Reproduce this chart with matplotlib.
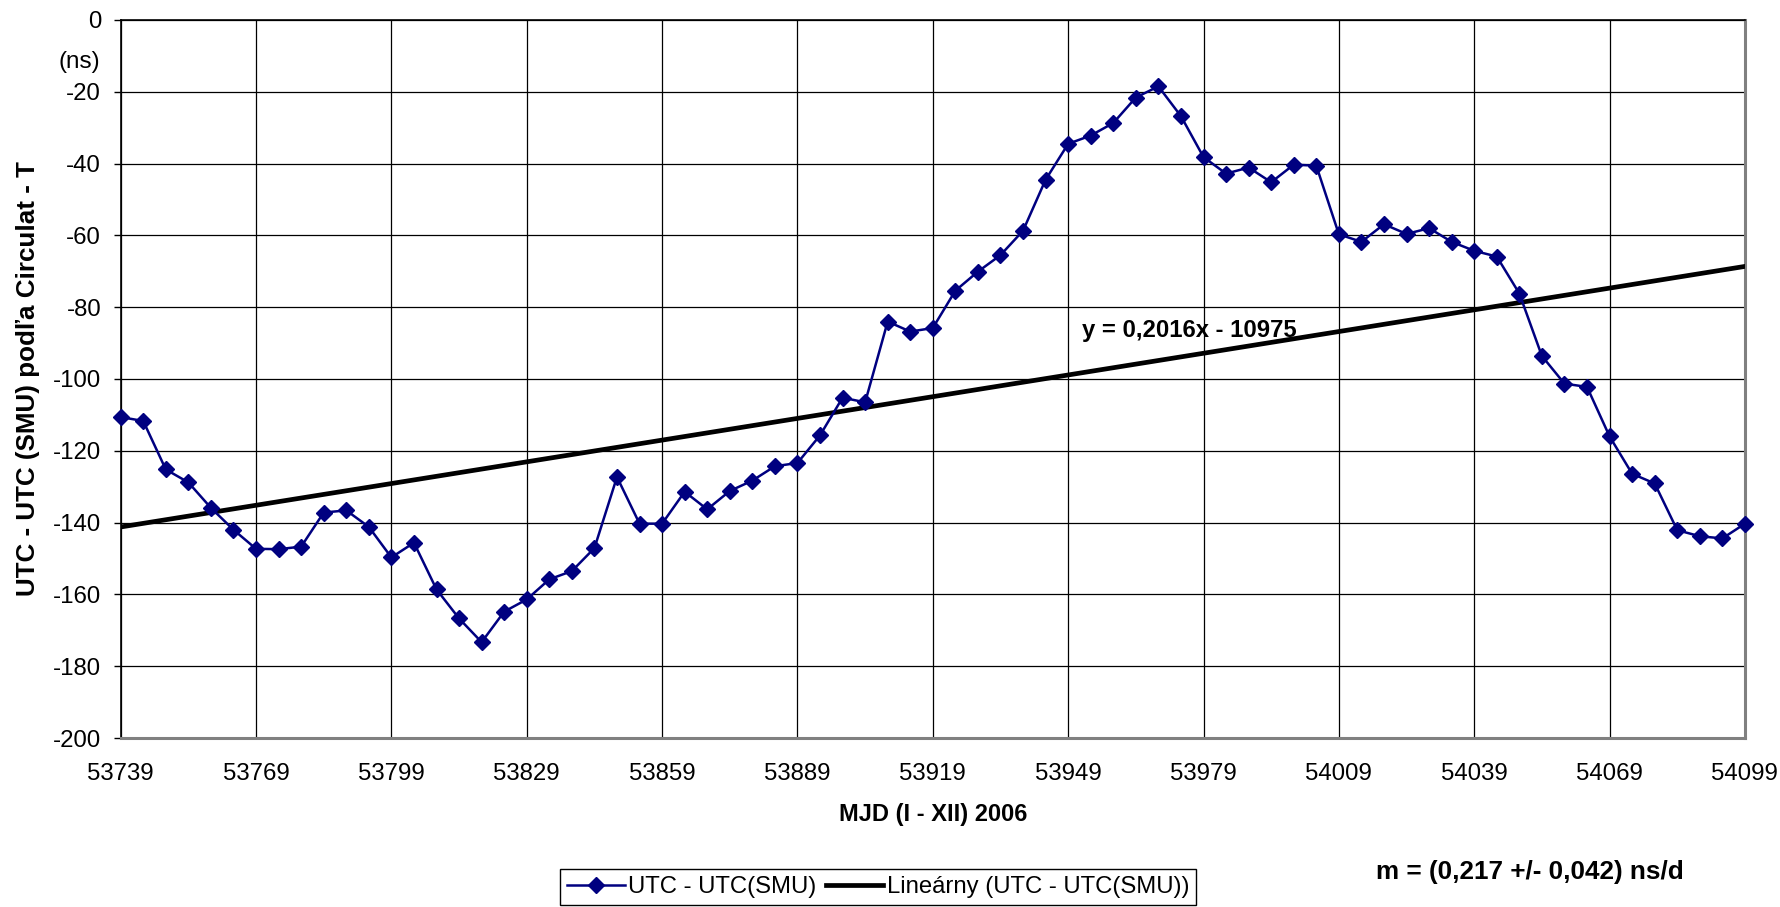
import numpy as np
import matplotlib.pyplot as plt

plt.rcParams['font.family'] = ['Liberation Sans', 'DejaVu Sans']

# MJD epochs (every 5 days through 2006)
mjd = [53739, 53744, 53749, 53754, 53759, 53764, 53769, 53774, 53779, 53784,
       53789, 53794, 53799, 53804, 53809, 53814, 53819, 53824, 53829, 53834,
       53839, 53844, 53849, 53854, 53859, 53864, 53869, 53874, 53879, 53884,
       53889, 53894, 53899, 53904, 53909, 53914, 53919, 53924, 53929, 53934,
       53939, 53944, 53949, 53954, 53959, 53964, 53969, 53974, 53979, 53984,
       53989, 53994, 53999, 54004, 54009, 54014, 54019, 54024, 54029, 54034,
       54039, 54044, 54049, 54054, 54059, 54064, 54069, 54074, 54079, 54084,
       54089, 54094, 54099]

# UTC - UTC(SMU) in ns
utc_smu = [-110.6, -111.7, -125.2, -128.8, -135.9, -142.0, -147.3, -147.4, -146.7, -137.2,
           -136.6, -141.2, -149.7, -145.6, -158.6, -166.7, -173.3, -164.8, -161.4, -155.8,
           -153.5, -147.1, -127.3, -140.3, -140.3, -131.4, -136.3, -131.2, -128.3, -124.3,
           -123.4, -115.7, -105.2, -106.5, -84.0, -86.8, -85.8, -75.4, -70.1, -65.5,
           -58.7, -44.5, -34.5, -32.2, -28.7, -21.6, -18.5, -26.8, -38.2, -42.8,
           -41.1, -45.2, -40.3, -40.6, -59.7, -61.8, -56.9, -59.6, -58.0, -61.8,
           -64.3, -65.9, -76.2, -93.6, -101.3, -102.2, -116.0, -126.4, -129.1, -142.1,
           -143.8, -144.4, -140.3]

# first value of the next period, only the start of that segment is visible
next_mjd = 54104
next_val = -130.0

# linear trend y = a*x + b
trend_a = 0.2016
trend_b = -10975

xticks = [53739, 53769, 53799, 53829, 53859, 53889, 53919, 53949, 53979, 54009, 54039, 54069, 54099]
yticks = [0, -20, -40, -60, -80, -100, -120, -140, -160, -180, -200]

navy = '#000080'

fig = plt.figure(figsize=(17.8, 9.07), dpi=100)
ax = fig.add_axes([0.0678, 0.1863, 0.9125, 0.7917])

ax.set_xlim(53739, 54099)
ax.set_ylim(-200, 0)
ax.set_xticks(xticks)
ax.set_yticks(yticks)
ax.grid(True, color='#000000', linewidth=0.9, zorder=0)
ax.set_axisbelow(True)

xt = np.array([53739, 54099])
ax.plot(xt, trend_a * xt + trend_b, color='black', linewidth=3.4, zorder=3,
        label='Lineárny (UTC - UTC(SMU))')
ax.plot([mjd[-1], next_mjd], [utc_smu[-1], next_val], color=navy, linewidth=1.8, zorder=4)
ax.plot(mjd, utc_smu, color=navy, linewidth=1.8, marker='D', markersize=7.8,
        markeredgecolor=navy, markerfacecolor=navy, zorder=5, clip_on=False,
        label='UTC - UTC(SMU)')

for side in ['left', 'top']:
    ax.spines[side].set_color('black')
    ax.spines[side].set_linewidth(1.2)
for side in ['bottom', 'right']:
    ax.spines[side].set_color('#808080')
    ax.spines[side].set_linewidth(2.2)

ax.tick_params(axis='y', direction='out', length=5, width=1, color='black',
               pad=9, labelsize=17.3)
ax.tick_params(axis='x', length=0, pad=18, labelsize=17.3)
ax.set_xticklabels([str(t) for t in xticks])
ax.set_yticklabels([str(t) for t in yticks])

# axis titles
fig.text(28 / 1780, 1 - 379 / 907, 'UTC - UTC (SMU) podľa Circulat - T', fontsize=18.7,
         fontweight='bold', rotation=90, ha='center', va='center')
fig.text(933 / 1780, 1 - 815 / 907, 'MJD (I - XII) 2006', fontsize=17,
         fontweight='bold', ha='center', va='center')

ax.text(-0.0127, 0.941, '(ns)', transform=ax.transAxes, fontsize=17.5, ha='right', va='center')

ax.text(53952, -86.6, 'y = 0,2016x - 10975', fontsize=17.2, fontweight='bold',
        ha='left', va='center', zorder=6)

fig.text(1530 / 1780, 1 - 872 / 907, 'm = (0,217 +/- 0,042) ns/d', fontsize=18.8,
         fontweight='bold', ha='center', va='center')

h, l = ax.get_legend_handles_labels()
leg = fig.legend([h[1], h[0]], [l[1], l[0]], loc='upper left',
                 bbox_to_anchor=(560 / 1780, 1 - 869 / 907), ncol=2, fontsize=17.2,
                 frameon=True, fancybox=False, edgecolor='black', framealpha=1,
                 handlelength=2.4, handletextpad=0.15, columnspacing=0.4,
                 borderpad=0.3, borderaxespad=0)
leg.get_frame().set_linewidth(1.0)

fig.savefig('out.png', dpi=100)
